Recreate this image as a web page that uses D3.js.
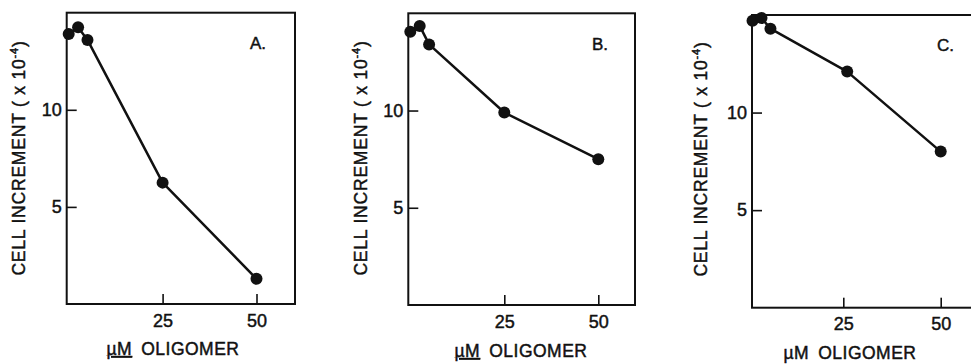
<!DOCTYPE html>
<html>
<head>
<meta charset="utf-8">
<script src="https://cdn.jsdelivr.net/npm/d3@7"></script>
<style>
  html, body { margin: 0; padding: 0; background: #fff; }
  svg { display: block; }
  text { font-family: "Liberation Sans", Arial, Helvetica, sans-serif; fill: #111; stroke: #111; stroke-width: 0.45px; }
</style>
</head>
<body>
<svg id="chart" width="971" height="364"></svg>
<script>
// ---- data ----
const concentrations = [0, 2.5, 5, 25, 50];          // µM oligomer, panels A and B
const concentrationsC = [1.7, 4, 6.3, 26, 50];        // panel C (as drawn)
const cellIncrementA = [13.9, 14.25, 13.6, 6.25, 1.3];
const cellIncrementB = [14.05, 14.35, 13.4, 9.9, 7.5];
const cellIncrementC = [14.7, 14.85, 14.3, 12.1, 8.0];
const xTicks = [25, 50];
const yTicks = [5, 10];
const panelNames = ["A.", "B.", "C."];
const yTitle = "CELL INCREMENT ( x 10";
const yTitleExp = "-4";
const xTitleUnit = "µM";
const xTitleWord = "OLIGOMER";

// ---- layout (pixel geometry of each panel) ----
const layout = [
  {x0: 68.7, x50: 256.5, left: 66.7, right: 295, top: 12.7, bottom: 304,
   yTitleX: 25, yTitleY: 158, xTitleX: 173, xTitleY: 355, nameX: 250, nameY: 49, underline: true},
  {x0: 410.3, x50: 598.3, left: 408.3, right: 635, top: 13.3, bottom: 305,
   yTitleX: 366.5, yTitleY: 158, xTitleX: 521, xTitleY: 357, nameX: 592, nameY: 50, underline: true},
  {x0: 745.9, x50: 940.7, left: 752, right: 990, top: 15, bottom: 307.7,
   yTitleX: 706.5, yTitleY: 159, xTitleX: 850, xTitleY: 359, nameX: 937, nameY: 50.5, underline: false}
];
const series = [
  {x: concentrations, y: cellIncrementA},
  {x: concentrations, y: cellIncrementB},
  {x: concentrationsC, y: cellIncrementC}
];

const svg = d3.select("#chart");

layout.forEach((L, i) => {
  const g = svg.append("g");
  const x = d3.scaleLinear().domain([0, 50]).range([L.x0, L.x50]);
  const y = d3.scaleLinear().domain([0, 15]).range([L.bottom, L.top]);

  // frame
  g.append("rect")
    .attr("x", L.left).attr("y", L.top)
    .attr("width", L.right - L.left).attr("height", L.bottom - L.top)
    .attr("fill", "none").attr("stroke", "#111").attr("stroke-width", 2);

  // y axis (ticks pointing inward)
  const yAxis = g.append("g")
    .attr("transform", `translate(${L.left},0)`)
    .call(d3.axisLeft(y).tickValues(yTicks).tickSizeInner(-10).tickSizeOuter(0).tickPadding(5));
  yAxis.select(".domain").remove();
  yAxis.selectAll("line").attr("stroke", "#111").attr("stroke-width", 1.6);
  yAxis.selectAll("text").style("font-size", "18px").attr("fill", "#111")
    .style("font-family", "'Liberation Sans', Arial, sans-serif");

  // x axis (ticks pointing inward)
  const xAxis = g.append("g")
    .attr("transform", `translate(0,${L.bottom})`)
    .call(d3.axisBottom(x).tickValues(xTicks).tickSizeInner(-10).tickSizeOuter(0).tickPadding(10));
  xAxis.select(".domain").remove();
  xAxis.selectAll("line").attr("stroke", "#111").attr("stroke-width", 1.6);
  xAxis.selectAll("text").style("font-size", "18px").attr("fill", "#111")
    .style("font-family", "'Liberation Sans', Arial, sans-serif");

  // data line + points
  const S = series[i];
  const pts = S.x.map((v, k) => [v, S.y[k]]);
  g.append("path")
    .datum(pts)
    .attr("fill", "none").attr("stroke", "#111").attr("stroke-width", 2.5)
    .attr("stroke-linejoin", "round")
    .attr("d", d3.line().x(d => x(d[0])).y(d => y(d[1])));
  g.selectAll("circle.pt").data(pts).enter().append("circle")
    .attr("class", "pt")
    .attr("cx", d => x(d[0])).attr("cy", d => y(d[1]))
    .attr("r", 6).attr("fill", "#111");

  // y title
  const yt = g.append("text")
    .attr("transform", `translate(${L.yTitleX},${L.yTitleY}) rotate(-90)`)
    .attr("text-anchor", "middle")
    .style("font-size", "17.5px").style("letter-spacing", "0.8px");
  yt.append("tspan").text(yTitle);
  yt.append("tspan").attr("dy", -7).style("font-size", "11px").text(yTitleExp);
  yt.append("tspan").attr("dy", 7).text(")");

  // x title
  const xt = g.append("text")
    .attr("x", L.xTitleX).attr("y", L.xTitleY)
    .attr("text-anchor", "middle")
    .style("font-size", "17.5px").style("letter-spacing", "0.5px");
  xt.append("tspan").text(xTitleUnit)
    .style("text-decoration", L.underline ? "underline" : "none");
  xt.append("tspan").attr("dx", 9).text(xTitleWord);

  // panel name
  g.append("text")
    .attr("x", L.nameX).attr("y", L.nameY)
    .style("font-size", "17px")
    .text(panelNames[i]);
});
</script>
</body>
</html>
